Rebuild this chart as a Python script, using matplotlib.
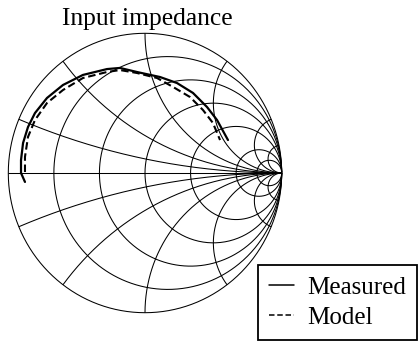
import numpy as np
import matplotlib
matplotlib.use("Agg")
import matplotlib.pyplot as plt

plt.rcParams['font.family'] = ['Liberation Serif', 'DejaVu Serif']

# Smith chart grid values (normalised resistance / reactance)
resistance_values = [0.2, 0.5, 1, 2, 5, 10]
reactance_values = [0.2, 0.5, 1, 2, 5, 10]

# Reflection coefficient of the input impedance (real, imaginary)
measured_re = [-0.878, -0.907, -0.907, -0.892, -0.856, -0.805, -0.717, -0.600,
               -0.454, -0.278, -0.183, -0.059, 0.110, 0.234, 0.351, 0.454,
               0.527, 0.607]
measured_im = [-0.064, 0.000, 0.093, 0.215, 0.329, 0.429, 0.537, 0.630,
               0.702, 0.744, 0.752, 0.723, 0.687, 0.644, 0.573, 0.472,
               0.379, 0.236]

model_re = [-0.878, -0.878, -0.856, -0.805, -0.717, -0.600, -0.454, -0.278,
            -0.183, -0.059, 0.088, 0.205, 0.329, 0.424, 0.497, 0.549]
model_im = [0.007, 0.115, 0.258, 0.379, 0.501, 0.594, 0.680, 0.723,
            0.737, 0.716, 0.680, 0.616, 0.544, 0.451, 0.358, 0.236]

series_labels = ["Measured", "Model"]
title_text = "Input impedance"

fig = plt.figure(figsize=(4.2, 3.42), dpi=100)
ax = fig.add_axes([8.3 / 420, 29.3 / 342, 273.4 / 420, 279.4 / 342])
ax.set_xlim(-1, 1)
ax.set_ylim(-1, 1)
ax.axis('off')

grid_kw = dict(color='black', lw=0.75, clip_on=False, solid_capstyle='butt')


def gamma(z):
    return (z - 1) / (z + 1)


# outer boundary (r = 0) and real axis
t = np.linspace(0, 2 * np.pi, 721)
ax.plot(np.cos(t), np.sin(t), **grid_kw)
ax.plot([-1, 1], [0, 0], **grid_kw)

# constant-resistance circles
xs = np.concatenate([-np.logspace(3, -3, 600), np.logspace(-3, 3, 600)])
for r in resistance_values:
    g = gamma(r + 1j * xs)
    ax.plot(g.real, g.imag, **grid_kw)

# constant-reactance arcs
rs = np.concatenate([[0], np.logspace(-3, 3, 800)])
for x in reactance_values:
    for s in (1, -1):
        g = gamma(rs + 1j * s * x)
        ax.plot(g.real, g.imag, **grid_kw)

# impedance traces
l1, = ax.plot(measured_re, measured_im, color='black', lw=1.6,
              solid_capstyle='round', label=series_labels[0])
l2, = ax.plot(model_re, model_im, color='black', lw=1.5,
              dashes=(3.6, 1.8), label=series_labels[1])

fig.text(147 / 420, (342 - 25) / 342, title_text, ha='center',
         va='baseline', fontsize=18.4)

leg = fig.legend(handles=[l1, l2], loc='lower left',
                 bbox_to_anchor=(258 / 420, 2 / 342),
                 fontsize=18, frameon=True, fancybox=False,
                 handlelength=1.0, handletextpad=0.5, borderpad=0.45,
                 labelspacing=0.3, borderaxespad=0.0)
frame = leg.get_frame()
frame.set_edgecolor('black')
frame.set_linewidth(1.3)
frame.set_facecolor('white')
frame.set_alpha(1)
for h in leg.get_lines():
    h.set_linewidth(1.1)

fig.savefig("out.png", dpi=100, facecolor='white')
